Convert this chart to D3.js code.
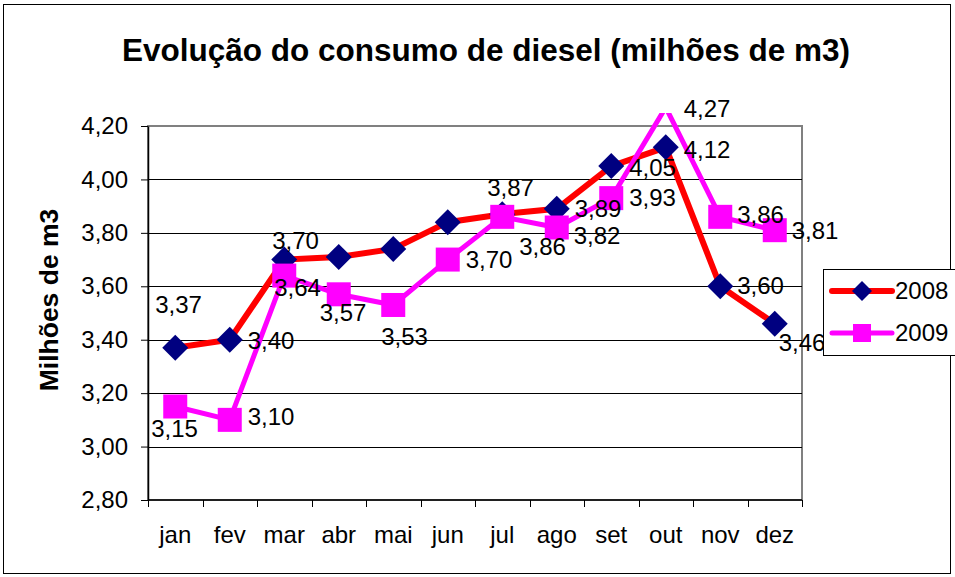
<!DOCTYPE html>
<html>
<head>
<meta charset="utf-8">
<script src="https://cdn.jsdelivr.net/npm/d3@7"></script>
<style>
  html, body { margin: 0; padding: 0; background: #fff; }
  svg { display: block; font-family: "Liberation Sans", Arial, sans-serif; }
</style>
</head>
<body>
<svg id="chart" width="955" height="577"></svg>
<script>
// ---- data ----
const categories = ["jan", "fev", "mar", "abr", "mai", "jun", "jul", "ago", "set", "out", "nov", "dez"];
const seriesNames = ["2008", "2009"];
const values2008 = [3.37, 3.40, 3.70, 3.71, 3.74, 3.84, 3.87, 3.89, 4.05, 4.12, 3.60, 3.46];
const values2009 = [3.15, 3.10, 3.64, 3.57, 3.53, 3.70, 3.86, 3.82, 3.93, 4.27, 3.86, 3.81];
const showLabels2008 = [true, true, true, false, false, false, true, true, true, true, true, true];
const showLabels2009 = [true, true, true, true, true, true, true, true, true, true, true, true];
const yTicks = [2.8, 3.0, 3.2, 3.4, 3.6, 3.8, 4.0, 4.2];
const titleText = "Evolução do consumo de diesel (milhões de m3)";
const yTitleText = "Milhões de m3";

// ---- label placement (offsets from the point: text start x, text centre y) ----
const labelOffsets2008 = [[-20,-43],[18,1],[-12,-19],[18,0],[18,0],[18,0],[-15,-27],[18,0],[18,2],[18,2],[17,-1],[4,19]];
const labelOffsets2009 = [[-24,22],[18,-3],[-10,12],[-19,18],[-12,32],[18,0],[17,30],[17,8],[18,-1],[18,1],[17,-2],[17,0]];

// ---- layout ----
const plot = { left: 148, right: 802, top: 126, bottom: 500 };
const font = "\"Liberation Sans\", Arial, sans-serif";

const svg = d3.select("#chart");
const locale = d3.formatLocale({ decimal: ",", thousands: ".", grouping: [3], currency: ["", ""] });
const fmt = locale.format(".2f");

const x = d3.scaleBand().domain(categories).range([plot.left, plot.right]).padding(0);
const cx = c => x(c) + x.bandwidth() / 2;
const y = d3.scaleLinear().domain([2.8, 4.2]).range([plot.bottom, plot.top]);

// outer border
svg.append("rect").attr("x", 3.5).attr("y", 4.5).attr("width", 947).attr("height", 569)
  .attr("fill", "#fff").attr("stroke", "#000").attr("stroke-width", 1);

// title
svg.append("text").attr("x", 486).attr("y", 61).attr("text-anchor", "middle")
  .attr("font-size", 31.5).attr("font-weight", "bold").attr("fill", "#000").text(titleText);

// y title
svg.append("text").attr("transform", "translate(58,300) rotate(-90)").attr("text-anchor", "middle")
  .attr("font-size", 26.5).attr("font-weight", "bold").attr("fill", "#000").text(yTitleText);

// plot frame (grey)
svg.append("rect").attr("x", plot.left).attr("y", plot.top)
  .attr("width", plot.right - plot.left).attr("height", plot.bottom - plot.top)
  .attr("fill", "#fff").attr("stroke", "#808080").attr("stroke-width", 2);

// gridlines
svg.append("g").selectAll("line").data(yTicks.filter(t => t > 2.8 && t < 4.2)).join("line")
  .attr("x1", plot.left).attr("x2", plot.right)
  .attr("y1", d => Math.round(y(d)) + 0.5).attr("y2", d => Math.round(y(d)) + 0.5)
  .attr("stroke", "#000").attr("stroke-width", 1);

// y axis
const yAxis = d3.axisLeft(y).tickValues(yTicks).tickSize(7).tickSizeOuter(0).tickPadding(13)
  .tickFormat(d => fmt(d));
const gy = svg.append("g").attr("transform", `translate(${plot.left},0)`).call(yAxis);
gy.select(".domain").attr("stroke", "#000").attr("stroke-width", 1.5);
gy.selectAll(".tick line").attr("stroke", "#000");
gy.selectAll(".tick text").attr("font-size", 24).attr("font-family", font).attr("fill", "#000");

// x axis (labels at centres, ticks at category boundaries)
const xAxis = d3.axisBottom(x).tickSize(0).tickPadding(26);
const gx = svg.append("g").attr("transform", `translate(0,${plot.bottom})`).call(xAxis);
gx.select(".domain").remove();
gx.selectAll(".tick text").attr("font-size", 24).attr("font-family", font).attr("fill", "#000");
const bounds = categories.map(c => x(c)).concat([plot.right]);
svg.append("g").selectAll("line").data(bounds).join("line")
  .attr("x1", d => Math.round(d) + 0.5).attr("x2", d => Math.round(d) + 0.5)
  .attr("y1", plot.bottom).attr("y2", plot.bottom + 7).attr("stroke", "#000");
svg.append("line").attr("x1", plot.left).attr("x2", plot.right)
  .attr("y1", plot.bottom).attr("y2", plot.bottom).attr("stroke", "#000").attr("stroke-width", 1.5);

// clip for lines (allow slight overflow above the plot)
svg.append("clipPath").attr("id", "lineclip").append("rect")
  .attr("x", 0).attr("y", plot.top - 13).attr("width", 955).attr("height", 577);

const series = [
  { name: seriesNames[0], values: values2008, show: showLabels2008, offsets: labelOffsets2008,
    line: "#FF0000", lw: 6, marker: "diamond", mcolor: "#000080" },
  { name: seriesNames[1], values: values2009, show: showLabels2009, offsets: labelOffsets2009,
    line: "#FF00FF", lw: 5, marker: "square", mcolor: "#FF00FF" }
];

const lineGen = d3.line().x((d, i) => cx(categories[i])).y(d => y(d));

function drawMarker(g, type, color, px, py) {
  if (type === "diamond") {
    const r = 13;
    g.append("path").attr("d", `M${px},${py - r}L${px + r},${py}L${px},${py + r}L${px - r},${py}Z`)
      .attr("fill", color);
  } else {
    const s = 24;
    g.append("rect").attr("x", px - s / 2).attr("y", py - s / 2).attr("width", s).attr("height", s)
      .attr("fill", color);
  }
}

// 2009 drawn on top of 2008
series.forEach(s => {
  const g = svg.append("g");
  g.append("path").datum(s.values).attr("d", lineGen).attr("fill", "none")
    .attr("stroke", s.line).attr("stroke-width", s.lw).attr("stroke-linejoin", "miter")
    .attr("clip-path", "url(#lineclip)");
  s.values.forEach((v, i) => {
    if (v <= 4.2 && v >= 2.8) drawMarker(g, s.marker, s.mcolor, cx(categories[i]), y(v));
  });
});

// data labels
series.forEach(s => {
  const g = svg.append("g");
  s.values.forEach((v, i) => {
    if (!s.show[i]) return;
    const o = s.offsets[i];
    g.append("text").attr("x", cx(categories[i]) + o[0]).attr("y", y(v) + o[1])
      .attr("dy", "0.35em").attr("font-size", 24).attr("fill", "#000").text(fmt(v));
  });
});

// legend
const lg = svg.append("g");
lg.append("rect").attr("x", 823.5).attr("y", 269.5).attr("width", 140).attr("height", 86)
  .attr("fill", "#fff").attr("stroke", "#000").attr("stroke-width", 1);
series.forEach((s, i) => {
  const ly = 291 + i * 42;
  lg.append("line").attr("x1", 832).attr("x2", 892).attr("y1", ly).attr("y2", ly)
    .attr("stroke", s.line).attr("stroke-width", s.lw).attr("stroke-linecap", "round");
  if (s.marker === "diamond") {
    const r = 10;
    lg.append("path").attr("d", `M862,${ly - r}L${862 + r},${ly}L862,${ly + r}L${862 - r},${ly}Z`).attr("fill", s.mcolor);
  } else {
    lg.append("rect").attr("x", 862 - 9).attr("y", ly - 9).attr("width", 18).attr("height", 18).attr("fill", s.mcolor);
  }
  lg.append("text").attr("x", 895).attr("y", ly).attr("dy", "0.35em")
    .attr("font-size", 24).attr("fill", "#000").text(s.name);
});
</script>
</body>
</html>
